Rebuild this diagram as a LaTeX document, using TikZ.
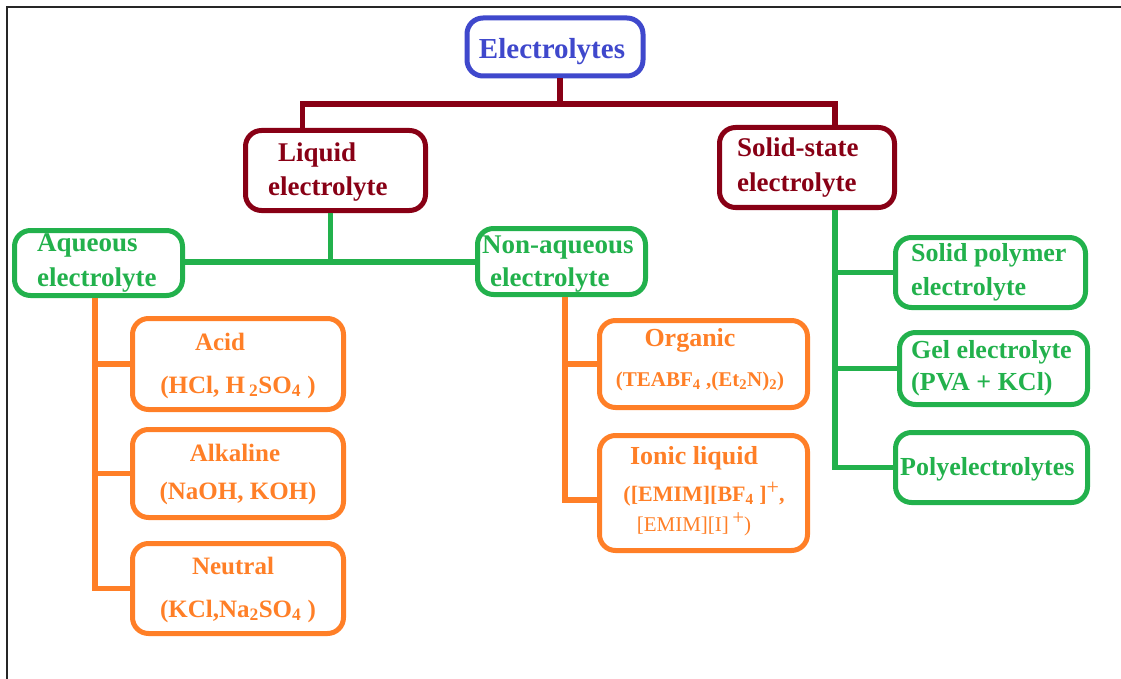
\documentclass[tikz,border=0pt]{standalone}
\usepackage{fontspec}
\setmainfont{Liberation Serif}
\definecolor{pblue}{HTML}{3F48CC}
\definecolor{pred}{HTML}{880015}
\definecolor{pgreen}{HTML}{22B14C}
\definecolor{porange}{HTML}{FF7F27}
\tikzset{
  bx/.style={draw=#1, line width=5pt, rounded corners=16pt, inner sep=0pt, fill=none},
  cn/.style={draw=#1, line width=5.5pt},
  tx/.style={inner sep=0pt, font=\bfseries\fontsize{#1}{#1}\selectfont},
}
\begin{document}
\begin{tikzpicture}[x=1pt,y=-1pt]
\useasboundingbox (0,0) rectangle (1121,679);
% frame
\draw[black!85, line width=2pt] (7,679) -- (7,7) -- (1121,7);

% boxes
\node[bx=pblue, minimum width=176pt, minimum height=58pt] (elec) at (555,47) {};
\node[bx=pred, minimum width=180pt, minimum height=80pt] (liq) at (335.5,170.5) {};
\node[bx=pred, minimum width=175pt, minimum height=80pt] (sol) at (807,167.5) {};
\node[bx=pgreen, minimum width=168pt, minimum height=65pt] (aq) at (98.5,263) {};
\node[bx=pgreen, minimum width=168pt, minimum height=66pt] (naq) at (561.5,261.5) {};
\node[bx=porange, minimum width=211pt, minimum height=91pt] (acid) at (238,364) {};
\node[bx=porange, minimum width=211pt, minimum height=88pt] (alk) at (238,473.5) {};
\node[bx=porange, minimum width=211pt, minimum height=90pt] (neu) at (238,588.5) {};
\node[bx=porange, minimum width=208pt, minimum height=87pt] (org) at (703.5,364) {};
\node[bx=porange, minimum width=208pt, minimum height=115pt] (ion) at (703.5,493) {};
\node[bx=pgreen, minimum width=190pt, minimum height=70pt] (spe) at (990.5,272.5) {};
\node[bx=pgreen, minimum width=188pt, minimum height=72pt] (gel) at (993.5,368.5) {};
\node[bx=pgreen, minimum width=192pt, minimum height=70pt] (poly) at (991.5,467.5) {};

% connectors: dark red
\coordinate (e0) at ([xshift=5pt]elec.south);
\coordinate (lq) at ([xshift=-33pt]liq.north);
\coordinate (sq) at ([xshift=28pt]sol.north);
\draw[cn=pred] (e0) -- (e0 |- 0,104);
\draw[cn=pred] (lq) |- (sq |- 0,104) -- (sq);
% green (liquid)
\coordinate (l0) at ([xshift=-5pt]liq.south);
\draw[cn=pgreen] (l0) -- (l0 |- 0,262);
\draw[cn=pgreen] (aq.east |- 0,262) -- (naq.west |- 0,262);
% green (solid)
\coordinate (s0) at ([xshift=28pt]sol.south);
\draw[cn=pgreen] (s0) |- (poly.west);
\draw[cn=pgreen] (spe.west) -- (spe.west -| s0);
\draw[cn=pgreen] (gel.west) -- (gel.west -| s0);
% orange (aqueous)
\coordinate (a0) at ([xshift=-3.5pt]aq.south);
\draw[cn=porange] (a0) |- (neu.west);
\draw[cn=porange] (acid.west) -- (acid.west -| a0);
\draw[cn=porange] (alk.west) -- (alk.west -| a0);
% orange (non-aqueous)
\coordinate (n0) at ([xshift=3.5pt]naq.south);
\draw[cn=porange] (n0) |- (ion.west |- 0,500);
\draw[cn=porange] (org.west) -- (org.west -| n0);

% texts
\node[tx=29, text=pblue, anchor=base] (telec) at (552,59) {Electrolytes};
\node[tx=27, text=pred, anchor=base west] (tliq1) at (278,162) {Liquid};
\node[tx=27, text=pred, anchor=base west] (tliq2) at (268,196) {electrolyte};
\node[tx=27, text=pred, anchor=base west] (tsol1) at (737,157) {Solid-state};
\node[tx=27, text=pred, anchor=base west] (tsol2) at (737,192) {electrolyte};
\node[tx=27, text=pgreen, anchor=base west] (taq1) at (37,251) {Aqueous};
\node[tx=27, text=pgreen, anchor=base west] (taq2) at (37,286) {electrolyte};
\node[tx=27, text=pgreen, anchor=base west] (tnaq1) at (482,253) {Non-aqueous};
\node[tx=27, text=pgreen, anchor=base west] (tnaq2) at (490,286) {electrolyte};
\node[tx=25, text=porange, anchor=base] (tacid1) at (220,350) {Acid};
\node[tx=25, text=porange, anchor=base] (tacid2) at (238,393) {(HCl, H\,\textsubscript{2}SO\textsubscript{4} )};
\node[tx=25, text=porange, anchor=base] (talk1) at (235,461) {Alkaline};
\node[tx=25, text=porange, anchor=base] (talk2) at (238,499) {(NaOH, KOH)};
\node[tx=25, text=porange, anchor=base] (tneu1) at (233,574) {Neutral};
\node[tx=25, text=porange, anchor=base] (tneu2) at (238,617) {(KCl,Na\textsubscript{2}SO\textsubscript{4} )};
\node[tx=26, text=porange, anchor=base] (torg1) at (690,346) {Organic};
\node[tx=21, text=porange, anchor=base] (torg2) at (700,386) {(TEABF\textsubscript{4} ,(Et\textsubscript{2}N)\textsubscript{2})};
\node[tx=26, text=porange, anchor=base] (tion1) at (694,464) {Ionic liquid};
\node[tx=22, text=porange, anchor=base] (tion2) at (704,501) {([EMIM][BF\textsubscript{4} ]\raisebox{7pt}{\mdseries +},};
\node[inner sep=0pt, font=\fontsize{21}{21}\selectfont, text=porange, anchor=base] (tion3) at (694,531) {[EMIM][I]\,\raisebox{7pt}{+})};
\node[tx=26, text=pgreen, anchor=base west] (tspe1) at (911,261) {Solid polymer};
\node[tx=26, text=pgreen, anchor=base west] (tspe2) at (911,295) {electrolyte};
\node[tx=26, text=pgreen, anchor=base west] (tgel1) at (911,358) {Gel electrolyte};
\node[tx=26, text=pgreen, anchor=base west] (tgel2) at (911,390) {(PVA + KCl)};
\node[tx=26, text=pgreen, anchor=base west] (tpoly) at (900,475) {Polyelectrolytes};
\end{tikzpicture}
\end{document}
